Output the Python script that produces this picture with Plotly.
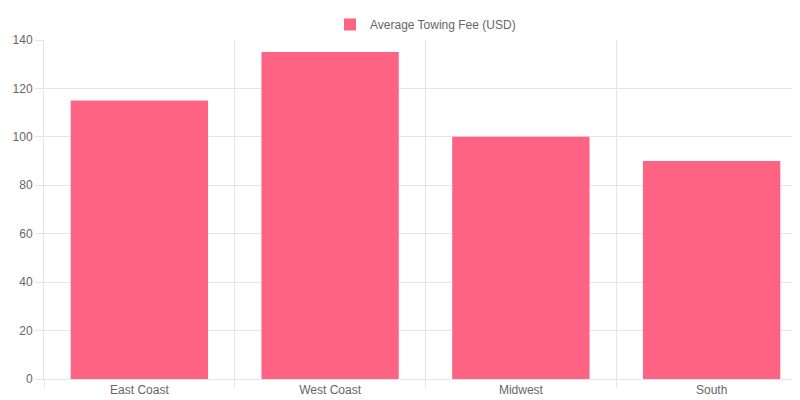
import plotly.graph_objects as go

regions = ["East Coast", "West Coast", "Midwest", "South"]
fees = [115, 135, 100, 90]

fig = go.Figure(go.Bar(
    x=regions, y=fees, name="Average Towing Fee (USD)",
    marker=dict(color="#ff6384", line=dict(width=0)), width=0.72,
    showlegend=True,
))
fig.update_layout(
    width=800, height=400, plot_bgcolor="white", paper_bgcolor="white",
    margin=dict(l=36, r=1, t=32, b=29, autoexpand=False),
    font=dict(family="Liberation Sans, Arial", size=12, color="#666"),
    legend=dict(orientation="h", x=0.5, xanchor="center", y=0.995, yanchor="top",
                yref="container", font=dict(size=12, color="#666")),
    bargap=0.28,
)
fig.update_xaxes(type="category", tickson="boundaries", showgrid=True, gridcolor="#e5e5e5",
                 ticks="outside", ticklen=8, tickcolor="#e5e5e5", showline=True,
                 linecolor="#e5e5e5", range=[-0.5, 3.5], automargin=False)
fig.update_yaxes(range=[0, 140], dtick=20, showgrid=True, gridcolor="#e5e5e5",
                 ticks="outside", ticklen=8, tickcolor="#e5e5e5", showline=True,
                 linecolor="#e5e5e5", zeroline=False, automargin=False)
fig.write_html("out.html")
